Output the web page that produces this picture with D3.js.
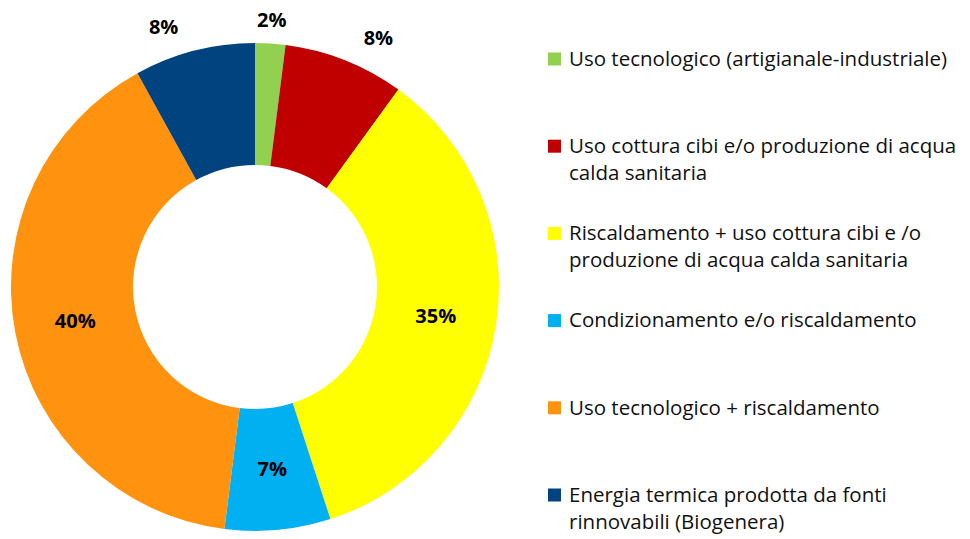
<!DOCTYPE html>
<html lang="it">
<head>
  <meta charset="UTF-8">
  <title>Ripartizione usi</title>
  <script src="https://d3js.org/d3.v7.min.js"></script>
  <style>
    body {
      margin: 0;
      background: #fff;
      font-family: 'Open Sans', sans-serif;
    }

    .slice-label {
      font-weight: bold;
      font-size: 20px;
      fill: #000;
    }

    .legend text {
      font-size: 20.5px;
      fill: #111;
    }
  </style>
</head>
<body>

<div class="chart"></div>

<script>
  const categories = [
    ['Uso tecnologico (artigianale-industriale)'],
    ['Uso cottura cibi e/o produzione di acqua', 'calda sanitaria'],
    ['Riscaldamento + uso cottura cibi e /o', 'produzione di acqua calda sanitaria'],
    ['Condizionamento e/o riscaldamento'],
    ['Uso tecnologico + riscaldamento'],
    ['Energia termica prodotta da fonti', 'rinnovabili (Biogenera)']
  ];
  const values = [2, 8, 35, 7, 40, 8];
  const colors = ['#92D050', '#C00000', '#FFFF00', '#00B0F0', '#FF930F', '#00437F'];
  // which labels sit outside the ring
  const outside = [true, true, false, false, false, true];

  const width = 970, height = 539;
  const cx = 255, cy = 287;
  const outerR = 244, innerR = 122;

  const data = values.map((v, i) => ({ value: v, lines: categories[i], color: colors[i], out: outside[i] }));

  const svg = d3.select('.chart')
    .append('svg')
    .attr('width', width)
    .attr('height', height);

  const pie = d3.pie()
    .sort(null)
    .value(d => d.value);

  const arc = d3.arc()
    .innerRadius(innerR)
    .outerRadius(outerR);

  const outsideArc = d3.arc()
    .innerRadius(268)
    .outerRadius(268);

  const g = svg.append('g')
    .attr('transform', 'translate(' + cx + ',' + cy + ')');

  const arcs = pie(data);

  g.selectAll('path')
    .data(arcs)
    .enter().append('path')
    .attr('d', arc)
    .attr('fill', d => d.data.color);

  const side = d => {
    const mid = (d.startAngle + d.endAngle) / 2;
    const s = Math.sin(mid);
    return Math.abs(s) < 0.15 ? 0 : (s > 0 ? 1 : -1);
  };

  g.selectAll('.slice-label')
    .data(arcs)
    .enter().append('text')
    .attr('class', 'slice-label')
    .attr('transform', d => {
      const c = d.data.out ? outsideArc.centroid(d) : arc.centroid(d);
      const shift = d.data.out ? side(d) * 10 : 0;
      return 'translate(' + (c[0] + shift) + ',' + c[1] + ')';
    })
    .attr('text-anchor', d => {
      if (!d.data.out) return 'middle';
      const s = side(d);
      return s === 0 ? 'middle' : (s > 0 ? 'start' : 'end');
    })
    .attr('dy', '0.35em')
    .text(d => d.data.value + '%');

  // legend
  const legendY = d3.scalePoint()
    .domain(d3.range(data.length))
    .range([59, 495]);

  const legend = svg.append('g')
    .attr('class', 'legend');

  const item = legend.selectAll('g')
    .data(data)
    .enter().append('g')
    .attr('transform', (d, i) => 'translate(548,' + legendY(i) + ')');

  item.append('rect')
    .attr('x', 0)
    .attr('y', -6.5)
    .attr('width', 13)
    .attr('height', 13)
    .attr('fill', d => d.color);

  item.append('text')
    .selectAll('tspan')
    .data(d => d.lines)
    .enter().append('tspan')
    .attr('x', 21)
    .attr('y', (d, i) => i * 27)
    .attr('dy', '0.33em')
    .text(d => d);
</script>
</body>
</html>
